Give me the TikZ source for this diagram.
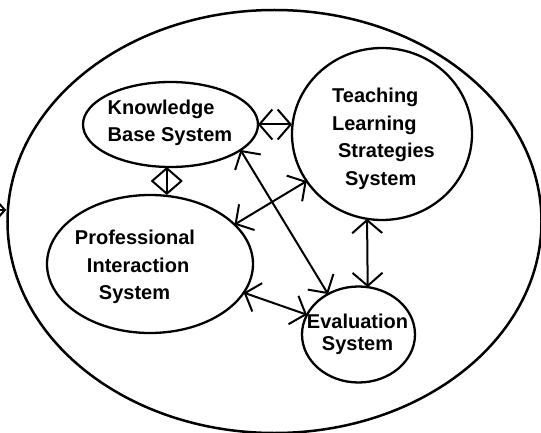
\documentclass[tikz,border=0pt]{standalone}
\usepackage{fontspec}
\setmainfont{Liberation Sans}
\usetikzlibrary{shapes.geometric,arrows.meta}
\begin{document}
\begin{tikzpicture}[x=1pt,y=-1pt,
  sys/.style={draw,ellipse,line width=2.3pt,inner sep=0pt,outer sep=0pt},
  lbl/.style={inner sep=0pt,align=left,font=\fontsize{20}{27.5}\selectfont\bfseries},
  link/.style={line width=2pt,{Straight Barb[length=13pt,width=30pt]}-{Straight Barb[length=13pt,width=30pt]}},
  inlink/.style={line width=2pt,-{Straight Barb[length=8pt,width=18pt]}}
  ]
\useasboundingbox (0,0) rectangle (541,433);
\clip (0,0) rectangle (541,433);
% outer system boundary
\node[draw,ellipse,line width=2.5pt,inner sep=0pt,minimum width=534pt,minimum height=423pt] (outer) at (274.5,221.5) {};
% subsystems
\node[sys,minimum width=175pt,minimum height=85pt] (kb) at (170.5,124.5) {};
\node[sys,minimum width=180pt,minimum height=172pt] (tl) at (382,134) {};
\node[sys,minimum width=206pt,minimum height=138pt] (pi) at (150,264) {};
\node[sys,minimum width=113pt,minimum height=96pt] (ev) at (358.5,334.5) {};
% labels
\node[lbl] (kbt) at (170,123) {Knowledge\\Base System};
\node[lbl] (tlt) at (383.5,139) {Teaching\\Learning\\\hspace*{6pt}Strategies\\\hspace*{13pt}System};
\node[lbl] (pit) at (135,267) {Professional\\\hspace*{12pt}Interaction\\\hspace*{24pt}System};
\node[lbl,font=\fontsize{20}{22}\selectfont\bfseries] (evt) at (357.5,334) {Evaluation\\\hspace*{15pt}System};
% connectors
\draw[link] (kb.east) -- (kb.east -| tl.west);
\draw[link] (kb.-95) -- (kb.-95 |- pi.north);
\draw[link] (kb.-20) -- (ev.127);
\draw[link] (pi.25) -- (tl.212);
\draw[link] (pi.-17) -- (ev.159);
\draw[link] (tl.-100) -- (ev.79);
% input into the whole system
\coordinate (src) at (0,210);
\draw[inlink] (src) -- (src -| outer.west);
\end{tikzpicture}
\end{document}
